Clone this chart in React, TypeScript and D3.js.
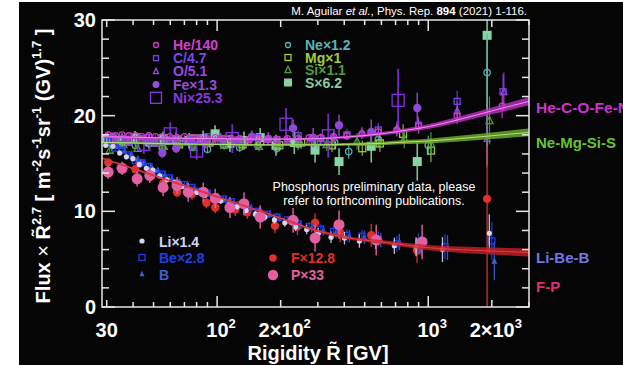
import React from 'react';
import * as d3 from 'd3';

const W = 623;
const H = 365;

// ---------- data ----------
const R_LBB = [30.5, 33, 35.5, 38.2, 41, 44, 47.5, 51, 55, 59.5, 64.5, 70, 76, 82.5, 90, 98, 107, 117, 128, 141, 156, 173, 192, 215, 242, 273, 310, 356, 412, 485, 580, 710, 900, 1200, 2000];
const LI = [16.9, 16.8, 16.1, 15.7, 15.5, 14.9, 14.5, 14.3, 13.7, 13.3, 13.0, 12.6, 12.3, 12.0, 11.7, 11.3, 11.1, 10.7, 10.5, 10.1, 9.7, 9.4, 9.1, 8.8, 8.4, 8.1, 7.7, 7.3, 7.2, 6.9, 6.8, 6.4, 6.3, 6.0, 7.7];
const BE = [17.4, 16.6, 16.4, 15.9, 15.3, 15.1, 14.7, 14.1, 13.9, 13.5, 13.0, 12.8, 12.5, 12.1, 11.9, 11.5, 11.3, 11.0, 10.7, 10.3, 10.0, 9.7, 9.4, 9.1, 8.7, 8.4, 8.1, 7.9, 7.5, 7.4, 7.1, 6.6, 6.7, 6.3, 6.9];
const B = [17.2, 16.8, 16.3, 16.0, 15.5, 15.1, 14.7, 14.3, 13.8, 13.4, 13.1, 12.7, 12.4, 12.1, 11.8, 11.6, 11.2, 10.9, 10.6, 10.4, 9.9, 9.7, 9.3, 9.0, 8.6, 8.3, 8.0, 7.8, 7.4, 7.3, 7.0, 6.8, 6.4, 6.2, 4.8];
const LBB_ERR = [0.25, 0.25, 0.25, 0.25, 0.25, 0.25, 0.25, 0.25, 0.25, 0.25, 0.3, 0.3, 0.3, 0.3, 0.3, 0.3, 0.3, 0.3, 0.3, 0.3, 0.35, 0.35, 0.4, 0.4, 0.45, 0.5, 0.55, 0.6, 0.65, 0.7, 0.75, 0.85, 1.0, 1.3, 2.0];

const R_F = [30.5, 35, 41, 48, 55.5, 64.6, 76, 89, 98, 122, 139, 160, 188, 240, 291, 383, 537, 885, 1900];
const F = [15.1, 14.6, 14.4, 13.6, 12.9, 12.0, 11.8, 10.9, 10.4, 10.2, 9.9, 9.8, 8.5, 8.4, 8.8, 7.8, 7.5, 5.9, 11.3];
const F_ERR_UP = [0.4, 0.4, 0.4, 0.5, 0.5, 0.5, 0.6, 0.6, 0.6, 0.7, 0.7, 0.8, 0.8, 0.9, 1.0, 1.0, 1.2, 1.3, 5.5];
const F_ERR_DN = [0.4, 0.4, 0.4, 0.5, 0.5, 0.5, 0.6, 0.6, 0.6, 0.7, 0.7, 0.8, 0.8, 0.9, 1.0, 1.0, 1.2, 1.3, 11.3];

const R_P = [30.5, 35.5, 41.8, 48, 55.5, 64.6, 73, 86, 98, 115, 134, 160, 229, 291, 378, 567, 935];
const P = [14.1, 14.5, 13.4, 13.75, 12.5, 12.7, 12.0, 12.0, 11.35, 10.4, 10.8, 9.4, 9.06, 7.2, 8.6, 7.0, 6.8];
const P_ERR = [0.7, 0.7, 0.8, 0.8, 0.9, 0.9, 1.0, 1.0, 1.0, 1.1, 1.2, 1.2, 1.3, 1.4, 1.5, 1.6, 1.8];

const R_HE = [30.5, 33, 35.5, 38.2, 41, 44, 47.5, 51, 55, 59.5, 64.5, 70, 76, 82.5, 90, 98, 107, 117, 128, 141, 156, 173, 192, 215, 242, 273, 310, 356, 412, 485, 580, 710, 900, 1370, 2240];
const HE = [18.0, 17.9, 18.0, 17.9, 17.9, 17.8, 17.9, 17.8, 17.8, 17.8, 17.7, 17.8, 17.7, 17.7, 17.6, 17.7, 17.6, 17.6, 17.6, 17.5, 17.6, 17.5, 17.5, 17.6, 17.6, 17.7, 17.7, 17.8, 17.9, 18.1, 18.3, 18.5, 18.9, 20.0, 21.0];
const HE_ERR = [0.15, 0.15, 0.15, 0.15, 0.15, 0.15, 0.15, 0.15, 0.15, 0.15, 0.15, 0.15, 0.15, 0.15, 0.15, 0.15, 0.15, 0.15, 0.15, 0.15, 0.2, 0.2, 0.2, 0.25, 0.25, 0.3, 0.3, 0.35, 0.4, 0.45, 0.5, 0.6, 0.7, 0.9, 1.3];

const R_C = [30.5, 35.5, 41, 47.5, 55, 64.5, 76, 90, 107, 128, 156, 192, 242, 310, 412, 580, 900, 1370, 2260];
const C = [17.5, 17.6, 17.4, 17.7, 17.3, 17.6, 17.5, 17.8, 17.6, 17.4, 17.7, 17.5, 17.9, 17.6, 18.0, 18.5, 19.0, 21.5, 22.5];
const C_ERR = [0.3, 0.3, 0.3, 0.3, 0.3, 0.3, 0.3, 0.35, 0.35, 0.4, 0.4, 0.45, 0.5, 0.55, 0.6, 0.7, 0.9, 1.1, 1.8];

const R_O = [33, 38.2, 44, 51, 59.5, 70, 82.5, 98, 117, 141, 173, 215, 273, 356, 485, 710, 1370, 1900, 2280];
const O = [17.3, 17.2, 17.5, 17.1, 17.4, 17.2, 17.5, 17.3, 17.6, 17.2, 17.5, 17.4, 17.3, 17.8, 18.2, 18.6, 20.5, 17.6, 22.5];
const O_ERR = [0.3, 0.3, 0.3, 0.3, 0.3, 0.3, 0.35, 0.35, 0.35, 0.4, 0.4, 0.45, 0.5, 0.55, 0.65, 0.8, 1.0, 3.0, 2.0];

const R_FE = [32, 37, 43, 48, 55, 64, 75, 88, 104, 123, 146, 175, 229, 285, 378, 537, 887];
const FE = [17.8, 17.5, 15.0, 17.3, 16.1, 16.6, 17.4, 17.1, 17.6, 17.3, 17.8, 17.6, 18.7, 17.7, 19.0, 18.3, 20.8];
const FE_ERR = [0.4, 0.4, 0.4, 0.45, 0.5, 0.5, 0.5, 0.55, 0.6, 0.6, 0.65, 0.7, 0.9, 1.0, 1.1, 1.3, 1.6];

const R_NI = [45, 60, 80, 118, 212, 336, 720];
const NI = [17.0, 18.1, 16.3, 17.6, 19.1, 17.9, 21.6];
const NI_ERR = [1.0, 1.2, 0.9, 1.5, 1.7, 2.3, 3.3];

const R_NE = [30.5, 35.5, 41, 47.5, 55, 64.5, 76, 90, 107, 128, 156, 192, 242, 298, 360, 420, 580, 1000, 1900];
const NE = [17.2, 17.0, 16.9, 17.1, 16.6, 17.0, 16.8, 16.5, 17.0, 16.7, 16.9, 16.6, 17.0, 17.2, 17.2, 16.25, 17.5, 16.9, 24.5];
const NE_ERR = [0.35, 0.35, 0.35, 0.35, 0.4, 0.4, 0.4, 0.45, 0.45, 0.5, 0.5, 0.55, 0.6, 0.65, 0.7, 0.75, 0.8, 1.0, 4.0];

const R_MG = [32, 37, 43, 50, 57, 66, 78, 92, 110, 132, 160, 197, 250, 350, 487, 590, 760, 1030];
const MG = [17.6, 17.3, 17.5, 17.2, 17.4, 17.0, 17.6, 17.2, 17.5, 17.0, 17.3, 16.9, 17.2, 16.9, 16.6, 17.1, 18.1, 16.35];
const MG_ERR = [0.4, 0.4, 0.4, 0.4, 0.45, 0.45, 0.45, 0.5, 0.5, 0.5, 0.55, 0.6, 0.65, 0.7, 0.8, 0.9, 1.0, 1.2];

const R_SI = [31, 36, 42, 49, 56, 65, 77, 91, 108, 130, 158, 195, 245, 330, 460, 770, 1030, 1950];
const SI = [16.4, 17.0, 16.6, 17.2, 16.8, 17.1, 16.7, 17.3, 16.9, 17.2, 16.8, 17.1, 17.4, 17.0, 17.3, 17.6, 17.1, 19.5];
const SI_ERR = [0.4, 0.4, 0.4, 0.4, 0.45, 0.45, 0.45, 0.5, 0.5, 0.5, 0.55, 0.6, 0.65, 0.7, 0.85, 1.0, 1.2, 2.5];

const R_S = [30.2, 35.4, 40.9, 47.6, 55.5, 64, 73.7, 85.8, 97.8, 115, 134, 160, 190, 232, 291, 378, 537, 887, 1900];
const S = [17.6, 17.4, 17.7, 17.3, 17.6, 17.5, 17.4, 17.6, 18.1, 17.1, 17.4, 17.7, 16.9, 17.2, 16.4, 15.2, 16.8, 15.2, 28.4];
const S_ERR = [0.7, 0.7, 0.7, 0.75, 0.75, 0.8, 0.8, 0.85, 0.9, 0.9, 0.95, 1.0, 1.1, 1.2, 1.3, 1.4, 1.7, 2.0, 13.5];

// fits (bands)
const FIT_R = [28.5, 40, 60, 100, 150, 200, 300, 400, 600, 800, 1000, 1400, 2000, 3000];
const FIT_HEAVY = [17.8, 17.75, 17.65, 17.6, 17.55, 17.55, 17.6, 17.75, 18.1, 18.5, 18.85, 19.6, 20.5, 21.5];
const FIT_HEAVY_W = [0.1, 0.1, 0.1, 0.1, 0.1, 0.1, 0.12, 0.14, 0.18, 0.22, 0.25, 0.3, 0.36, 0.42];
const FIT_MID = [17.2, 17.15, 17.05, 17.0, 16.95, 16.95, 16.95, 17.0, 17.1, 17.25, 17.35, 17.6, 17.9, 18.25];
const FIT_MID_W = [0.1, 0.1, 0.1, 0.1, 0.1, 0.1, 0.12, 0.14, 0.18, 0.22, 0.25, 0.3, 0.35, 0.4];
const FIT_LIGHT = [15.56, 14.48, 13.17, 11.53, 10.23, 9.3, 7.95, 7.3, 6.8, 6.45, 6.2, 6.0, 5.85, 5.7];
const FIT_LIGHT_W = [0.1, 0.1, 0.1, 0.1, 0.1, 0.12, 0.14, 0.16, 0.2, 0.24, 0.27, 0.32, 0.37, 0.42];

const Y_TICKS = [0, 10, 20, 30];
const Y_MINOR = [2, 4, 6, 8, 12, 14, 16, 18, 22, 24, 26, 28];
const X_MINOR = [40, 50, 60, 70, 80, 90, 300, 400, 500, 600, 700, 800, 900, 3000];
const X_MID = [30, 200, 2000];
const X_MAJOR = [100, 1000];
const X_LABELS = [
  { v: 30, base: '30', sup: '' },
  { v: 100, base: '10', sup: '2' },
  { v: 200, base: '2\u00d710', sup: '2' },
  { v: 1000, base: '10', sup: '3' },
  { v: 2000, base: '2\u00d710', sup: '3' },
];

// ---------- layout ----------
const L = 102, R = 529, T = 20, Bt = 307;
const x = d3.scaleLog().domain([28.5, 3000]).range([L, R]);
const y = d3.scaleLinear().domain([0, 30]).range([Bt, T]);

type Shape = 'circle' | 'square' | 'triangle';
interface Series {
  name: string; r: number[]; v: number[]; up: number[]; dn: number[];
  shape: Shape; fill: boolean; size: number; color: string; dx: number; ew: number;
}

const SERIES: Series[] = [
  { name: 'S', r: R_S, v: S, up: S_ERR, dn: S_ERR, shape: 'square', fill: true, size: 9, color: '#86d6a4', dx: 0, ew: 1.6 },
  { name: 'Ne', r: R_NE, v: NE, up: NE_ERR, dn: NE_ERR, shape: 'circle', fill: false, size: 3.2, color: '#5aaeb0', dx: 0, ew: 1.2 },
  { name: 'Mg', r: R_MG, v: MG, up: MG_ERR, dn: MG_ERR, shape: 'square', fill: false, size: 7, color: '#98c83c', dx: 0, ew: 1.2 },
  { name: 'Si', r: R_SI, v: SI, up: SI_ERR, dn: SI_ERR, shape: 'triangle', fill: false, size: 7, color: '#4e9a3a', dx: 0, ew: 1.2 },
  { name: 'Ni', r: R_NI, v: NI, up: NI_ERR, dn: NI_ERR, shape: 'square', fill: false, size: 12, color: '#8030e0', dx: 0, ew: 1.8 },
  { name: 'Fe', r: R_FE, v: FE, up: FE_ERR, dn: FE_ERR, shape: 'circle', fill: true, size: 4.2, color: '#9248d4', dx: 0, ew: 1.6 },
  { name: 'O', r: R_O, v: O, up: O_ERR, dn: O_ERR, shape: 'triangle', fill: false, size: 6, color: '#9a44dd', dx: 0, ew: 1.2 },
  { name: 'C', r: R_C, v: C, up: C_ERR, dn: C_ERR, shape: 'square', fill: false, size: 6, color: '#7a42e6', dx: 0, ew: 1.2 },
  { name: 'He', r: R_HE, v: HE, up: HE_ERR, dn: HE_ERR, shape: 'circle', fill: false, size: 3, color: '#c83cc8', dx: 0, ew: 1.2 },
  { name: 'F', r: R_F, v: F, up: F_ERR_UP, dn: F_ERR_DN, shape: 'circle', fill: true, size: 4.2, color: '#e0302a', dx: 0, ew: 1.4 },
  { name: 'B', r: R_LBB, v: B, up: LBB_ERR, dn: LBB_ERR, shape: 'triangle', fill: true, size: 6, color: '#3c63d0', dx: 2.5, ew: 1.3 },
  { name: 'Be', r: R_LBB, v: BE, up: LBB_ERR, dn: LBB_ERR, shape: 'square', fill: false, size: 6, color: '#1f3ee8', dx: 0, ew: 1.3 },
  { name: 'Li', r: R_LBB, v: LI, up: LBB_ERR, dn: LBB_ERR, shape: 'circle', fill: true, size: 2.6, color: '#d4d4f2', dx: -2.5, ew: 1.3 },
  { name: 'P', r: R_P, v: P, up: P_ERR, dn: P_ERR, shape: 'circle', fill: true, size: 5.5, color: '#e25fa2', dx: 0, ew: 1.6 },
];

function Marker({ cx, cy, shape, fill, size, color }: { cx: number; cy: number; shape: Shape; fill: boolean; size: number; color: string }) {
  const f = fill ? color : 'none';
  const sw = 1.3;
  if (shape === 'circle') return <circle cx={cx} cy={cy} r={size} fill={f} stroke={color} strokeWidth={fill ? 0 : sw} />;
  if (shape === 'square') return <rect x={cx - size / 2} y={cy - size / 2} width={size} height={size} fill={f} stroke={color} strokeWidth={fill ? 0 : sw} />;
  const h = size * 0.9;
  const pts = `${cx},${cy - h / 2 - 1} ${cx - size / 2},${cy + h / 2} ${cx + size / 2},${cy + h / 2}`;
  return <polygon points={pts} fill={f} stroke={color} strokeWidth={fill ? 0 : sw} />;
}

function band(center: number[], w: number[]) {
  const pts = FIT_R.map((r, i) => ({ r, c: center[i], w: w[i] }));
  const area = d3.area<{ r: number; c: number; w: number }>()
    .x(d => x(d.r)).y0(d => y(d.c - d.w)).y1(d => y(d.c + d.w)).curve(d3.curveMonotoneX);
  const line = d3.line<{ r: number; c: number; w: number }>()
    .x(d => x(d.r)).y(d => y(d.c)).curve(d3.curveMonotoneX);
  return { area: area(pts) || '', line: line(pts) || '' };
}

const FONT = "'Liberation Sans', Arial, Helvetica, sans-serif";

export default function App() {
  const bH = band(FIT_HEAVY, FIT_HEAVY_W);
  const bM = band(FIT_MID, FIT_MID_W);
  const bL = band(FIT_LIGHT, FIT_LIGHT_W);
  const frame = '#e6e6e6';

  const legendTop = [
    { t: 'He/140', c: '#d040d0', shape: 'circle' as Shape, fill: false, s: 2.5 },
    { t: 'C/4.7', c: '#7a48e8', shape: 'square' as Shape, fill: false, s: 5 },
    { t: 'O/5.1', c: '#9a48e0', shape: 'triangle' as Shape, fill: false, s: 5 },
    { t: 'Fe\u00d71.3', c: '#9450d2', shape: 'circle' as Shape, fill: true, s: 3.5 },
    { t: 'Ni\u00d725.3', c: '#8838e2', shape: 'square' as Shape, fill: false, s: 11 },
  ];
  const legendMid = [
    { t: 'Ne\u00d71.2', c: '#5fb3b6', shape: 'circle' as Shape, fill: false, s: 2.5 },
    { t: 'Mg\u00d71', c: '#a0cc3c', shape: 'square' as Shape, fill: false, s: 6 },
    { t: 'Si\u00d71.1', c: '#4f9c3c', shape: 'triangle' as Shape, fill: false, s: 6 },
    { t: 'S\u00d76.2', c: '#86cfa2', shape: 'square' as Shape, fill: true, s: 8 },
  ];
  const legendLow = [
    { t: 'Li\u00d71.4', c: '#d4d4f2', shape: 'circle' as Shape, fill: true, s: 2.6 },
    { t: 'Be\u00d72.8', c: '#1f3ee8', shape: 'square' as Shape, fill: false, s: 6 },
    { t: 'B', c: '#3c63d0', shape: 'triangle' as Shape, fill: true, s: 5 },
  ];
  const legendFP = [
    { t: 'F\u00d712.8', c: '#e0302a', shape: 'circle' as Shape, fill: true, s: 3.8 },
    { t: 'P\u00d733', c: '#e25fa2', shape: 'circle' as Shape, fill: true, s: 5.2 },
  ];

  return (
    <svg width={W} height={H} style={{ display: 'block', position: 'absolute', left: 0, top: 0 }} fontFamily={FONT}>
      <rect x={0} y={0} width={W} height={H} fill="#ffffff" />
      <rect x={19} y={2} width={W - 19} height={H - 2} fill="#050505" />
      <defs>
        <clipPath id="plot"><rect x={L} y={T} width={R - L} height={Bt - T} /></clipPath>
      </defs>

      <g clipPath="url(#plot)">
        {SERIES.map(s => (
          <g key={s.name}>
            {s.r.map((r, i) => {
              const cx = x(r) + s.dx;
              return (
                <line key={'e' + i} x1={cx} x2={cx} y1={y(s.v[i] + s.up[i])} y2={y(s.v[i] - s.dn[i])} stroke={s.color} strokeWidth={s.ew} opacity={0.9} />
              );
            })}
            {s.r.map((r, i) => (
              <Marker key={'m' + i} cx={x(r) + s.dx} cy={y(s.v[i])} shape={s.shape} fill={s.fill} size={s.size} color={s.color} />
            ))}
          </g>
        ))}
        <path d={bM.area} fill="#6aa82a" opacity={0.85} />
        <path d={bM.line} fill="none" stroke="#b8e070" strokeWidth={1} />
        <path d={bH.area} fill="#c030c8" opacity={0.8} />
        <path d={bH.line} fill="none" stroke="#f090f0" strokeWidth={1} />
        <path d={bL.area} fill="#c81e28" opacity={0.8} />
        <path d={bL.line} fill="none" stroke="#e04040" strokeWidth={1} />
      </g>

      {/* frame */}
      <rect x={L} y={T} width={R - L} height={Bt - T} fill="none" stroke={frame} strokeWidth={1.5} />
      {Y_TICKS.map(t => (
        <g key={'yt' + t}>
          <line x1={L} x2={L + 13} y1={y(t)} y2={y(t)} stroke={frame} strokeWidth={1.5} />
          <line x1={R} x2={R - 13} y1={y(t)} y2={y(t)} stroke={frame} strokeWidth={1.5} />
          <text x={96} y={y(t) + 7} textAnchor="end" fill="#ffffff" fontSize={20} fontWeight="bold">{t}</text>
        </g>
      ))}
      {Y_MINOR.map(t => (
        <g key={'ym' + t}>
          <line x1={L} x2={L + 7} y1={y(t)} y2={y(t)} stroke={frame} strokeWidth={1.5} />
          <line x1={R} x2={R - 7} y1={y(t)} y2={y(t)} stroke={frame} strokeWidth={1.5} />
        </g>
      ))}
      {X_MINOR.concat(X_MID, X_MAJOR).map(v => {
        const len = X_MAJOR.includes(v) ? 11 : X_MID.includes(v) ? 7 : 5;
        return (
          <g key={'xt' + v}>
            <line x1={x(v)} x2={x(v)} y1={Bt} y2={Bt - len} stroke={frame} strokeWidth={1.5} />
            <line x1={x(v)} x2={x(v)} y1={T} y2={T + len} stroke={frame} strokeWidth={1.5} />
          </g>
        );
      })}
      {X_LABELS.map(l => (
        <text key={'xl' + l.v} x={x(l.v) + (l.sup ? 4 : 0)} y={337} textAnchor="middle" fill="#ffffff" fontSize={20} fontWeight="bold">
          {l.base}
          {l.sup && <tspan fontSize={13} dy={-9}>{l.sup}</tspan>}
        </text>
      ))}

      {/* axis titles */}
      <text x={318} y={360} textAnchor="middle" fill="#ffffff" fontSize={20} fontWeight="bold">
        {'Rigidity  R\u0303 [GV]'}
      </text>
      <text transform="translate(50,166) rotate(-90)" textAnchor="middle" fill="#ffffff" fontSize={20} fontWeight="bold">
        <tspan>Flux </tspan>
        <tspan fontWeight="normal">{'\u00d7'}</tspan>
        <tspan>{' R\u0303'}</tspan>
        <tspan fontSize={13} dy={-9}>2.7</tspan>
        <tspan dy={9}>{'  [ m'}</tspan>
        <tspan fontSize={13} dy={-9}>-2</tspan>
        <tspan dy={9}>s</tspan>
        <tspan fontSize={13} dy={-9}>-1</tspan>
        <tspan dy={9}>sr</tspan>
        <tspan fontSize={13} dy={-9}>-1</tspan>
        <tspan dy={9}> (GV)</tspan>
        <tspan fontSize={13} dy={-9}>1.7</tspan>
        <tspan dy={9}> ]</tspan>
      </text>

      {/* citation */}
      <text x={527} y={15} textAnchor="end" fill="#ffffff" fontSize={11.5}>
        <tspan>M. Aguilar </tspan>
        <tspan fontStyle="italic">et al.</tspan>
        <tspan>, Phys. Rep. </tspan>
        <tspan fontWeight="bold">894</tspan>
        <tspan> (2021) 1-116.</tspan>
      </text>

      {/* note */}
      <text x={374} y={191} textAnchor="middle" fill="#ffffff" fontSize={12.5}>Phosphorus preliminary data, please</text>
      <text x={374} y={205} textAnchor="middle" fill="#ffffff" fontSize={12.5}>refer to forthcoming publications.</text>

      {/* legends */}
      {legendTop.map((e, i) => (
        <g key={'lt' + i}>
          <Marker cx={156} cy={45 + i * 13.2} shape={e.shape} fill={e.fill} size={e.s} color={e.c} />
          <text x={173} y={50 + i * 13.2} fill={e.c} fontSize={14} fontWeight="bold">{e.t}</text>
        </g>
      ))}
      {legendMid.map((e, i) => (
        <g key={'lm' + i}>
          <Marker cx={288} cy={45 + i * 12.5} shape={e.shape} fill={e.fill} size={e.s} color={e.c} />
          <text x={305} y={50 + i * 12.5} fill={e.c} fontSize={14} fontWeight="bold">{e.t}</text>
        </g>
      ))}
      {legendLow.map((e, i) => (
        <g key={'ll' + i}>
          <Marker cx={142} cy={241 + i * 16.5} shape={e.shape} fill={e.fill} size={e.s} color={e.c} />
          <text x={159} y={246.5 + i * 16.5} fill={e.c} fontSize={14} fontWeight="bold">{e.t}</text>
        </g>
      ))}
      {legendFP.map((e, i) => (
        <g key={'lf' + i}>
          <Marker cx={273} cy={258 + i * 17} shape={e.shape} fill={e.fill} size={e.s} color={e.c} />
          <text x={291} y={263 + i * 17} fill={e.c} fontSize={14} fontWeight="bold">{e.t}</text>
        </g>
      ))}

      {/* right labels */}
      <text x={536} y={113} fill="#cc33cc" fontSize={15.5} fontWeight="bold">He-C-O-Fe-Ni</text>
      <text x={536} y={148} fill="#66c42e" fontSize={15} fontWeight="bold">Ne-Mg-Si-S</text>
      <text x={536} y={263} fill="#6f78e6" fontSize={15} fontWeight="bold">Li-Be-B</text>
      <text x={536} y={292} fill="#e0306a" fontSize={15} fontWeight="bold">F-P</text>
    </svg>
  );
}
